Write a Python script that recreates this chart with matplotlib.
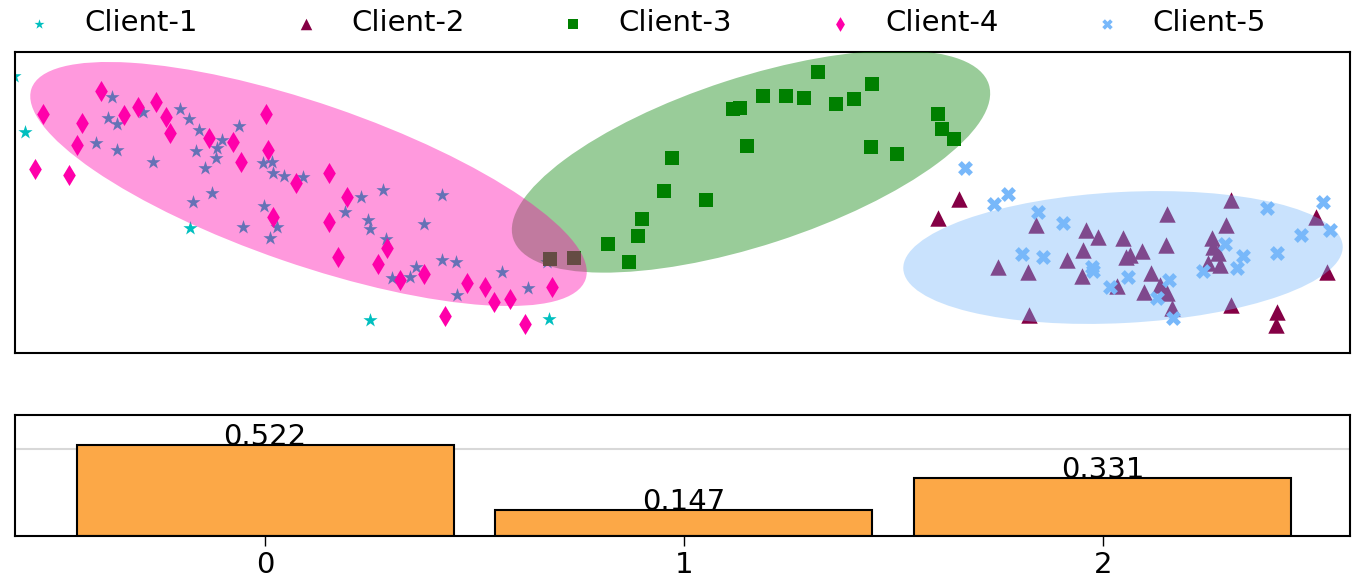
import numpy as np
import matplotlib.pyplot as plt
from matplotlib.patches import Ellipse

plt.rcParams['font.family'] = 'DejaVu Sans'
plt.rcParams['font.size'] = 21

# 2-D embedding of client samples
c1_x = [-0.1, 1.0, 17.5, 35.5, 53.4, 9.7, 9.3, 10.2, 12.8, 8.1, 10.2, 13.8, 16.5, 17.4,
        18.4, 20.7, 20.2, 20.1, 18.1, 19.0, 22.4, 24.8, 25.7, 25.8, 26.9, 28.8, 17.8,
        19.7, 24.9, 26.2, 25.5, 22.8, 33.0, 34.6, 36.8, 35.3, 35.5, 42.7, 40.9, 37.1,
        37.7, 39.5, 40.1, 42.7, 44.1, 44.2, 48.7, 51.3, 53.2]
c1_y = [27.7, 22.1, 12.5, 3.3, 3.4, 25.6, 23.5, 22.9, 24.1, 21.0, 20.3, 19.1, 24.4, 23.4,
        22.3, 21.3, 20.5, 19.5, 20.2, 18.5, 22.7, 19.0, 19.1, 18.0, 17.7, 17.6, 15.1,
        16.0, 14.7, 12.6, 11.5, 12.6, 14.1, 15.6, 16.3, 13.3, 12.4, 15.8, 12.9, 11.4,
        7.5, 7.6, 8.6, 9.3, 9.1, 5.8, 8.1, 6.5, 9.1]

c2_x = [94.4, 92.3, 126.2, 126.1, 130.1, 131.2, 121.6, 102.1, 107.1, 108.3, 110.8, 115.2,
        121.1, 106.8, 105.2, 98.3, 101.3, 106.7, 111.1, 111.5, 112.7, 115.1, 119.7, 119.8,
        120.3, 120.5, 119.3, 113.6, 110.2, 112.9, 114.5, 115.2, 115.7, 121.6, 101.4]
c2_y = [15.4, 13.5, 4.1, 2.8, 13.6, 8.1, 15.3, 12.8, 12.3, 11.6, 11.5, 13.9,
        12.8, 10.3, 9.3, 8.6, 8.1, 7.7, 9.6, 9.8, 10.2, 10.8, 11.5, 10.6,
        10.0, 8.8, 9.0, 8.0, 6.7, 6.1, 6.8, 6.0, 4.5, 4.8, 3.8]

c3_x = [80.3, 85.7, 74.8, 77.1, 78.9, 82.1, 83.9, 71.8, 72.5, 92.3, 92.7, 93.9, 73.2,
        85.6, 88.2, 65.7, 64.9, 69.1, 62.7, 62.3, 59.3, 61.4, 53.5, 55.9]
c3_y = [28.1, 26.9, 25.7, 25.7, 25.5, 24.9, 25.4, 24.4, 24.5, 23.9, 22.4, 21.4, 20.7,
        20.6, 19.9, 19.5, 16.2, 15.3, 13.4, 11.7, 10.9, 9.1, 9.4, 9.5]

c4_x = [2.8, 6.7, 6.2, 2.0, 5.4, 8.6, 10.9, 12.3, 14.1, 15.1, 15.5, 19.4, 21.8, 22.6,
        25.1, 25.3, 28.1, 31.4, 25.8, 31.4, 33.2, 32.3, 36.3, 37.2, 38.5, 40.9, 45.2,
        47.0, 47.9, 49.5, 53.7, 43.0, 51.0]
c4_y = [23.9, 23.0, 20.8, 18.4, 17.8, 26.2, 23.8, 24.6, 25.1, 23.6, 22.0, 21.5, 21.1, 19.1,
        23.9, 20.3, 17.0, 18.0, 13.6, 13.1, 15.6, 9.6, 8.9, 10.5, 7.3, 7.9, 7.0,
        6.6, 5.1, 5.4, 6.6, 3.7, 2.9]

c5_x = [95.0, 97.9, 99.3, 102.3, 104.8, 100.7, 102.8, 107.7, 107.8, 109.5, 111.3, 115.4,
        114.2, 115.8, 118.8, 121.0, 122.2, 122.8, 125.2, 126.2, 128.6, 130.8, 131.5]
c5_y = [18.5, 14.9, 15.9, 14.1, 13.0, 9.9, 9.6, 8.6, 8.2, 6.6, 7.6, 7.3,
        5.5, 3.5, 8.2, 10.9, 8.5, 9.7, 14.5, 10.0, 11.8, 15.1, 12.3]

# cluster ellipses: center, width, height, angle
ell_centers = [(73.6, 19.15), (29.35, 16.9), (110.8, 9.55)]
ell_widths = [50.0, 58.6, 44.0]
ell_heights = [16.8, 16.1, 13.1]
ell_angles = [18, -19, 3]

# cluster weights
clusters = [0, 1, 2]
weights = [0.522, 0.147, 0.331]

col_c1 = '#00bfbf'
col_c2 = '#850045'
col_c3 = '#008000'
col_c4 = '#ff00aa'
col_c5 = '#78b8fa'
ell_colors = [col_c3, col_c4, col_c5]

fig = plt.figure(figsize=(13.65, 5.83), dpi=100)
ax = fig.add_axes([0.011, 0.3945, 0.978, 0.5163])
ax2 = fig.add_axes([0.011, 0.0806, 0.978, 0.2075])

ms = 115
ax.scatter(c1_x, c1_y, s=ms, marker='*', color=col_c1, linewidths=0, label='Client-1')
ax.scatter(c2_x, c2_y, s=140, marker='^', color=col_c2, linewidths=0, label='Client-2')
ax.scatter(c3_x, c3_y, s=ms, marker='s', color=col_c3, linewidths=0, label='Client-3')
ax.scatter(c4_x, c4_y, s=ms, marker='d', color=col_c4, linewidths=0, label='Client-4')
ax.scatter(c5_x, c5_y, s=ms, marker='X', color=col_c5, linewidths=0, label='Client-5')

for c, w, h, a, col in zip(ell_centers, ell_widths, ell_heights, ell_angles, ell_colors):
    ax.add_patch(Ellipse(c, w, h, angle=a, facecolor=col, edgecolor='none', alpha=0.4, zorder=3))

ax.set_xlim(0, 133.5)
ax.set_ylim(0, 30.1)
ax.set_xticks([])
ax.set_yticks([])
for sp in ax.spines.values():
    sp.set_linewidth(1.5)

fig.legend(loc='center', bbox_to_anchor=(0.470, 0.960), ncol=5, frameon=False,
           markerscale=0.7, handlelength=1.5, handletextpad=0.8, columnspacing=2.97,
           fontsize=21)

# cluster weights
ax2.bar(clusters, weights, width=0.9, color='#fca847', edgecolor='black', linewidth=1.5, zorder=2)
for x, v in zip(clusters, weights):
    ax2.text(x, v, f'{v:.3f}', ha='center', va='baseline', fontsize=21, zorder=3)
ax2.set_yticks([0.5])
ax2.yaxis.grid(True, color='#d8d8d8', linewidth=1.5, zorder=0)
ax2.set_axisbelow(True)
ax2.tick_params(axis='y', length=0, labelleft=False)
ax2.set_xticks(clusters)
ax2.tick_params(axis='x', length=7, width=1, pad=4, labelsize=21)
ax2.set_xlim(-0.597, 2.59)
ax2.set_ylim(0, 0.695)
for sp in ax2.spines.values():
    sp.set_linewidth(1.5)

fig.savefig('out.png', dpi=100)
